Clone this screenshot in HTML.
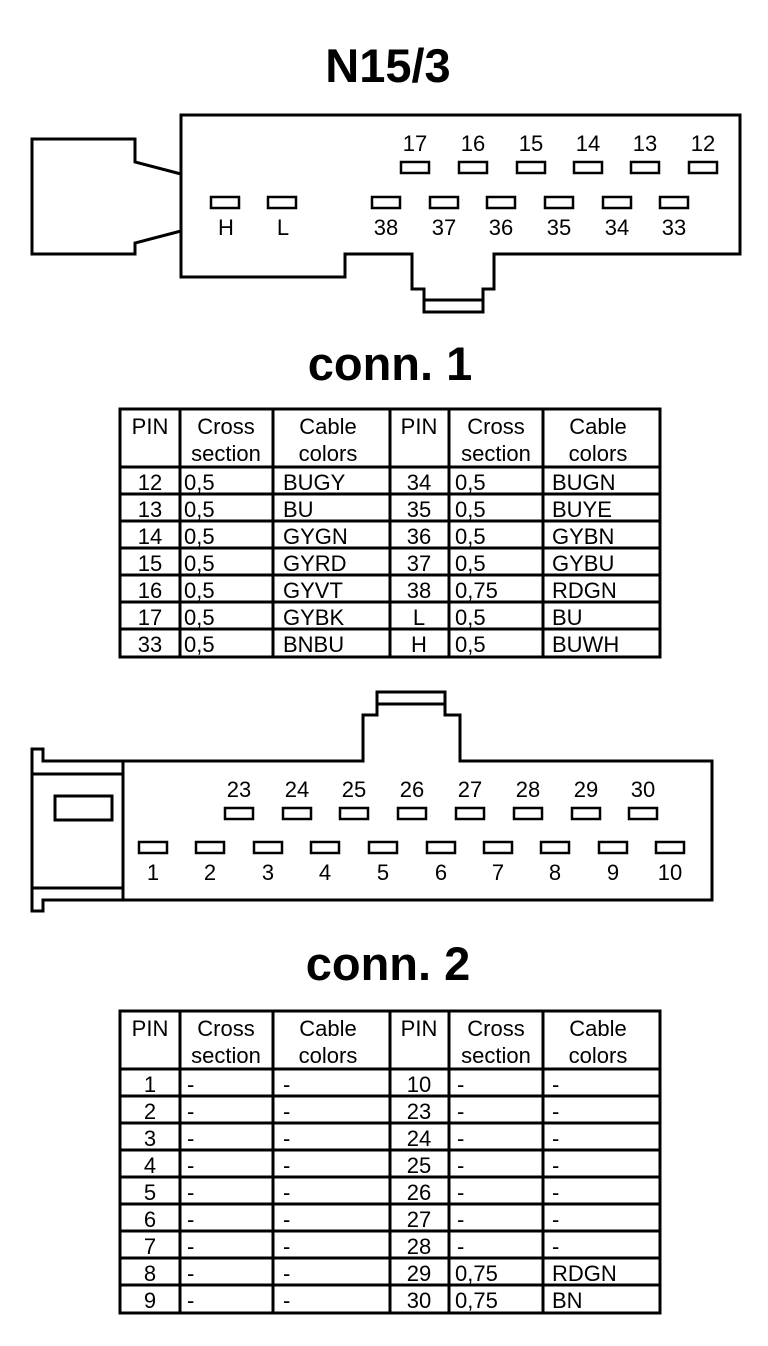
<!DOCTYPE html>
<html><head><meta charset="utf-8"><style>
html,body{margin:0;padding:0;background:#fff;}
svg{display:block;}
text{font-family:"Liberation Sans",Arial,sans-serif;fill:#000;}
.t{font-size:22px;}
.h{font-size:47px;font-weight:bold;}
</style></head><body>
<svg width="768" height="1346" viewBox="0 0 768 1346" xmlns="http://www.w3.org/2000/svg">
<g fill="none" stroke="#000" stroke-width="3">
<path d="M181,115 H740 V254 H494 V289 H483 V312 H424 V289 H412 V254 H345 V277 H181 Z"/>
<line x1="424" y1="300" x2="483" y2="300"/>
<path d="M181,174 L135,162 V139 H32 V254 H135 V243 L181,231"/>
<g stroke-width="2.5">
<rect x="401" y="162" width="28" height="11"/><rect x="459" y="162" width="28" height="11"/>
<rect x="517" y="162" width="28" height="11"/><rect x="574" y="162" width="28" height="11"/>
<rect x="631" y="162" width="28" height="11"/><rect x="689" y="162" width="28" height="11"/>
<rect x="211" y="197" width="28" height="11"/><rect x="268" y="197" width="28" height="11"/>
<rect x="372" y="197" width="28" height="11"/><rect x="430" y="197" width="28" height="11"/>
<rect x="487" y="197" width="28" height="11"/><rect x="545" y="197" width="28" height="11"/>
<rect x="603" y="197" width="28" height="11"/><rect x="660" y="197" width="28" height="11"/>
</g>
<path d="M43,761 H363 V715 H377 V692 H445 V715 H460 V761 H712 V900 H43 V911 H32 V749 H43 Z"/>
<line x1="377" y1="704" x2="445" y2="704"/>
<line x1="123" y1="761" x2="123" y2="900"/>
<line x1="32" y1="774" x2="123" y2="774"/>
<line x1="32" y1="888" x2="123" y2="888"/>
<rect x="55" y="796" width="57" height="24"/>
<g stroke-width="2.5">
<rect x="225" y="808" width="28" height="11"/><rect x="283" y="808" width="28" height="11"/>
<rect x="340" y="808" width="28" height="11"/><rect x="398" y="808" width="28" height="11"/>
<rect x="456" y="808" width="28" height="11"/><rect x="514" y="808" width="28" height="11"/>
<rect x="572" y="808" width="28" height="11"/><rect x="629" y="808" width="28" height="11"/>
<rect x="139" y="842" width="28" height="11"/><rect x="196" y="842" width="28" height="11"/>
<rect x="254" y="842" width="28" height="11"/><rect x="311" y="842" width="28" height="11"/>
<rect x="369" y="842" width="28" height="11"/><rect x="427" y="842" width="28" height="11"/>
<rect x="484" y="842" width="28" height="11"/><rect x="541" y="842" width="28" height="11"/>
<rect x="599" y="842" width="28" height="11"/><rect x="656" y="842" width="28" height="11"/>
</g>
<rect x="120" y="409" width="540" height="248"/>
<path d="M180,409V657M273,409V657M390,409V657M449,409V657M543,409V657"/>
<path d="M120,467H660M120,494H660M120,521H660M120,548H660M120,575H660M120,602H660M120,629H660"/>
<rect x="120" y="1011" width="540" height="302"/>
<path d="M180,1011V1313M273,1011V1313M390,1011V1313M449,1011V1313M543,1011V1313"/>
<path d="M120,1069H660M120,1096H660M120,1123H660M120,1150H660M120,1177H660M120,1204H660M120,1231H660M120,1258H660M120,1285H660"/>
</g>

<text class="h" x="388" y="82" text-anchor="middle">N15/3</text>
<text class="h" x="390" y="380" text-anchor="middle">conn. 1</text>
<text class="h" x="388" y="980" text-anchor="middle">conn. 2</text>

<g class="t" text-anchor="middle">
<text x="415" y="151">17</text><text x="473" y="151">16</text><text x="531" y="151">15</text>
<text x="588" y="151">14</text><text x="645" y="151">13</text><text x="703" y="151">12</text>
<text x="226" y="235">H</text><text x="283" y="235">L</text><text x="386" y="235">38</text>
<text x="444" y="235">37</text><text x="501" y="235">36</text><text x="559" y="235">35</text>
<text x="617" y="235">34</text><text x="674" y="235">33</text>

<text x="239" y="797">23</text><text x="297" y="797">24</text><text x="354" y="797">25</text>
<text x="412" y="797">26</text><text x="470" y="797">27</text><text x="528" y="797">28</text>
<text x="586" y="797">29</text><text x="643" y="797">30</text>
<text x="153" y="880">1</text><text x="210" y="880">2</text><text x="268" y="880">3</text>
<text x="325" y="880">4</text><text x="383" y="880">5</text><text x="441" y="880">6</text>
<text x="498" y="880">7</text><text x="555" y="880">8</text><text x="613" y="880">9</text>
<text x="670" y="880">10</text>

<text x="150" y="434">PIN</text><text x="226" y="434">Cross</text><text x="226" y="461">section</text>
<text x="328" y="434">Cable</text><text x="328" y="461">colors</text>
<text x="419" y="434">PIN</text><text x="496" y="434">Cross</text><text x="496" y="461">section</text>
<text x="598" y="434">Cable</text><text x="598" y="461">colors</text>
<text x="150" y="1036">PIN</text><text x="226" y="1036">Cross</text><text x="226" y="1063">section</text>
<text x="328" y="1036">Cable</text><text x="328" y="1063">colors</text>
<text x="419" y="1036">PIN</text><text x="496" y="1036">Cross</text><text x="496" y="1063">section</text>
<text x="598" y="1036">Cable</text><text x="598" y="1063">colors</text>

<text x="150" y="490">12</text><text x="150" y="517">13</text><text x="150" y="544">14</text>
<text x="150" y="571">15</text><text x="150" y="598">16</text><text x="150" y="625">17</text><text x="150" y="652">33</text>
<text x="419" y="490">34</text><text x="419" y="517">35</text><text x="419" y="544">36</text>
<text x="419" y="571">37</text><text x="419" y="598">38</text><text x="419" y="625">L</text><text x="419" y="652">H</text>

<text x="150" y="1092">1</text><text x="150" y="1119">2</text><text x="150" y="1146">3</text>
<text x="150" y="1173">4</text><text x="150" y="1200">5</text><text x="150" y="1227">6</text>
<text x="150" y="1254">7</text><text x="150" y="1281">8</text><text x="150" y="1308">9</text>
<text x="419" y="1092">10</text><text x="419" y="1119">23</text><text x="419" y="1146">24</text>
<text x="419" y="1173">25</text><text x="419" y="1200">26</text><text x="419" y="1227">27</text>
<text x="419" y="1254">28</text><text x="419" y="1281">29</text><text x="419" y="1308">30</text>
</g>

<g class="t">
<text x="184" y="490">0,5</text><text x="184" y="517">0,5</text><text x="184" y="544">0,5</text>
<text x="184" y="571">0,5</text><text x="184" y="598">0,5</text><text x="184" y="625">0,5</text><text x="184" y="652">0,5</text>
<text x="283" y="490">BUGY</text><text x="283" y="517">BU</text><text x="283" y="544">GYGN</text>
<text x="283" y="571">GYRD</text><text x="283" y="598">GYVT</text><text x="283" y="625">GYBK</text><text x="283" y="652">BNBU</text>
<text x="455" y="490">0,5</text><text x="455" y="517">0,5</text><text x="455" y="544">0,5</text>
<text x="455" y="571">0,5</text><text x="455" y="598">0,75</text><text x="455" y="625">0,5</text><text x="455" y="652">0,5</text>
<text x="552" y="490">BUGN</text><text x="552" y="517">BUYE</text><text x="552" y="544">GYBN</text>
<text x="552" y="571">GYBU</text><text x="552" y="598">RDGN</text><text x="552" y="625">BU</text><text x="552" y="652">BUWH</text>

<text x="187" y="1092">-</text><text x="187" y="1119">-</text><text x="187" y="1146">-</text>
<text x="187" y="1173">-</text><text x="187" y="1200">-</text><text x="187" y="1227">-</text>
<text x="187" y="1254">-</text><text x="187" y="1281">-</text><text x="187" y="1308">-</text>
<text x="283" y="1092">-</text><text x="283" y="1119">-</text><text x="283" y="1146">-</text>
<text x="283" y="1173">-</text><text x="283" y="1200">-</text><text x="283" y="1227">-</text>
<text x="283" y="1254">-</text><text x="283" y="1281">-</text><text x="283" y="1308">-</text>
<text x="457" y="1092">-</text><text x="457" y="1119">-</text><text x="457" y="1146">-</text>
<text x="457" y="1173">-</text><text x="457" y="1200">-</text><text x="457" y="1227">-</text>
<text x="457" y="1254">-</text><text x="455" y="1281">0,75</text><text x="455" y="1308">0,75</text>
<text x="552" y="1092">-</text><text x="552" y="1119">-</text><text x="552" y="1146">-</text>
<text x="552" y="1173">-</text><text x="552" y="1200">-</text><text x="552" y="1227">-</text>
<text x="552" y="1254">-</text><text x="552" y="1281">RDGN</text><text x="552" y="1308">BN</text>
</g>
</svg>
</body></html>
